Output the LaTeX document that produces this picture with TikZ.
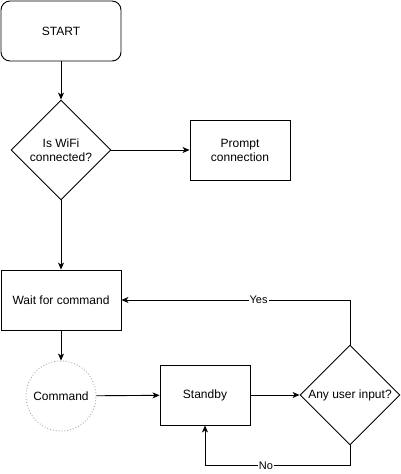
\documentclass[tikz,border=0pt]{standalone}
\usepackage{fontspec}
\setmainfont{Liberation Sans}
\usetikzlibrary{arrows.meta,positioning,shapes.geometric}

\tikzset{
  stepbox/.style={draw,minimum width=#1,minimum height=60pt,inner sep=2pt,align=center},
  decision/.style={draw,diamond,aspect=1,minimum size=100pt,inner sep=0pt,align=center},
  edgelabel/.style={fill=white,inner sep=1pt,font=\fontsize{11}{13}\selectfont}
}

\begin{document}
\begin{tikzpicture}[x=1pt,y=-1pt,line width=.9pt,>={Stealth[length=7pt,width=6pt,inset=2pt]},every node/.style={font=\fontsize{12}{14}\selectfont}]
\useasboundingbox (0,0) rectangle (401,474);
\node[stepbox=120pt,rounded corners=9pt] (start) at (61,31) {START};
\node[decision] (wifi) at (61,150) {Is WiFi\\connected?};
\node[stepbox=100pt] (prompt) at (240,150) {Prompt\\connection};
\node[stepbox=120pt] (wait) at (61,300) {Wait for command};
\node[draw=gray!70,dotted,circle,minimum size=70pt,inner sep=0pt] (cmd) at (61,396) {Command};
\node[stepbox=90pt] (standby) at (205,395) {Standby};
\node[decision] (input) at (350,395) {Any user input?};
\draw[->] (start)--(wifi);
\draw[->] (wifi)--(prompt);
\draw[->] (wifi)--(wait);
\draw[->] (wait)--(cmd);
\draw[->] (cmd)--(standby);
\draw[->] (standby)--(input);
\draw[->] (input.north) |- node[edgelabel,pos=.7] {Yes} (wait.east);
\draw[->] (input.south) -- ++(0,20) -| node[edgelabel,pos=.29] {No} (standby.south);
\end{tikzpicture}
\end{document}
